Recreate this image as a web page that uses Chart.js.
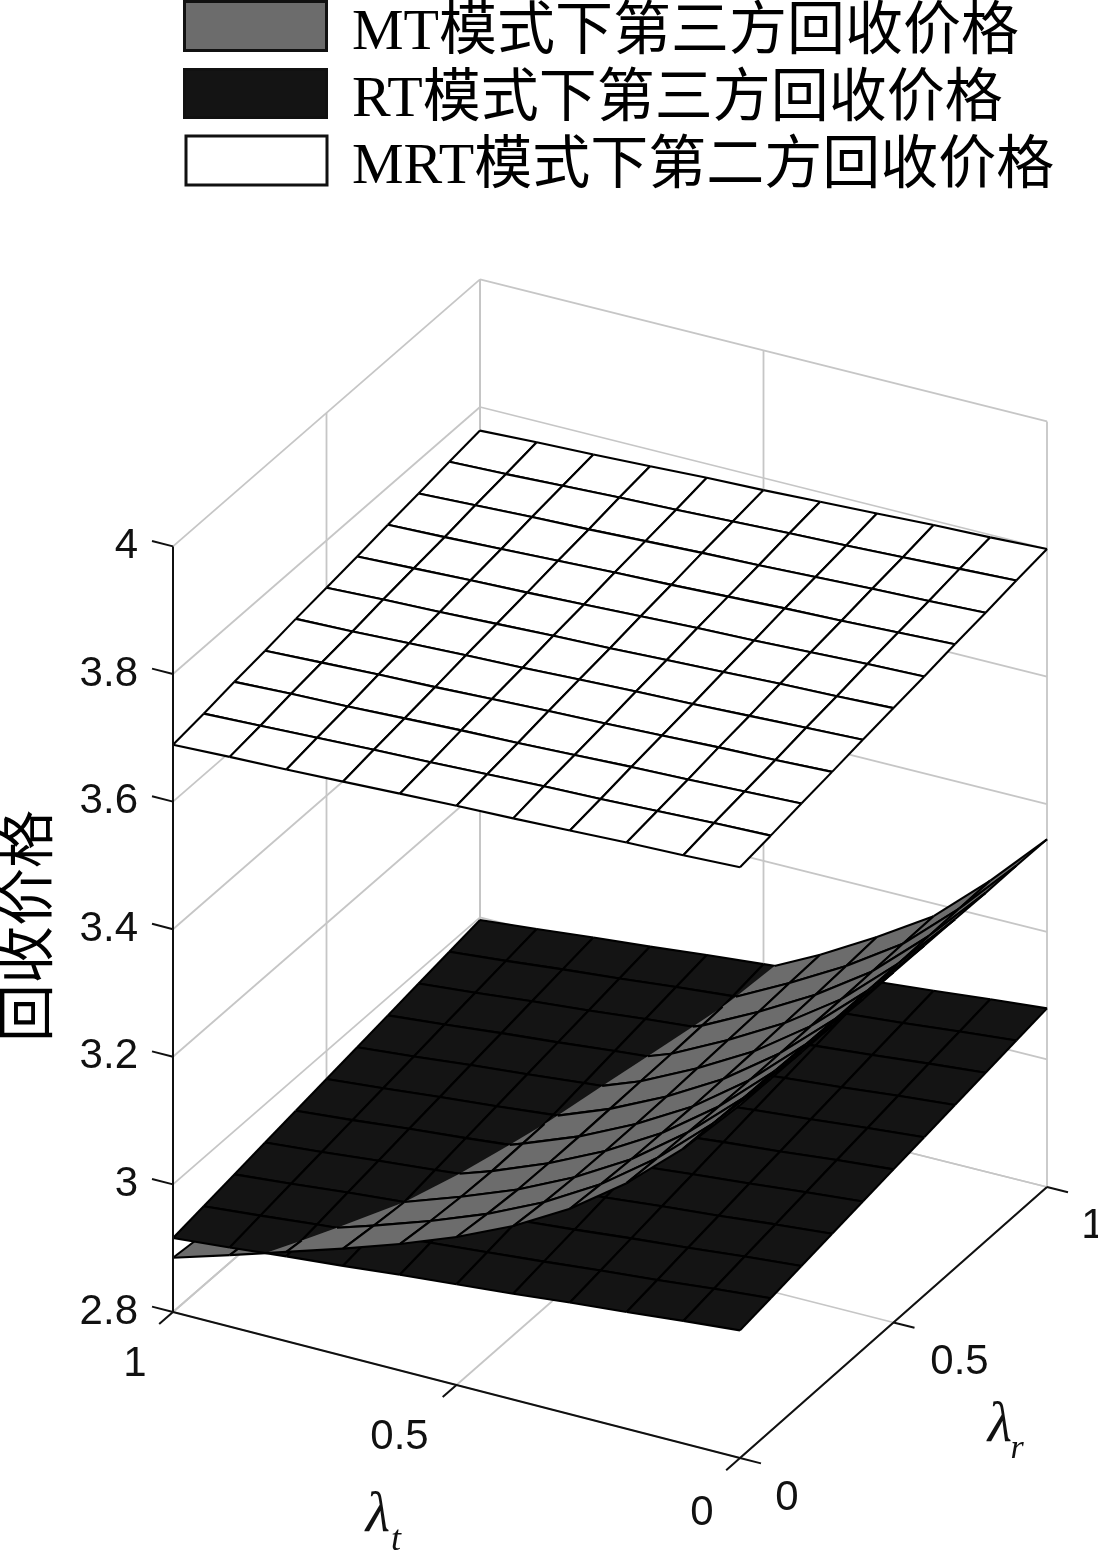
<!DOCTYPE html>
<html><head><meta charset="utf-8">
<style>html,body{margin:0;padding:0;background:#fff}canvas{display:block}</style>
<script src="https://cdn.jsdelivr.net/npm/chart.js@4/dist/chart.umd.js"></script>
</head><body>
<canvas id="c" width="1098" height="1552" style="width:1098px;height:1552px"></canvas>
<script>
// ---- data ----
const seriesNames = ['MT模式下第三方回收价格','RT模式下第三方回收价格','MRT模式下第二方回收价格'];
const lambdaT = [0,0.1,0.2,0.3,0.4,0.5,0.6,0.7,0.8,0.9,1];
const lambdaR = [0,0.1,0.2,0.3,0.4,0.5,0.6,0.7,0.8,0.9,1];
const zTicks = [2.8,3,3.2,3.4,3.6,3.8,4];
const zTickLabels = ['2.8','3','3.2','3.4','3.6','3.8','4'];
const tTicks = [0,0.5,1];
const rTicks = [0,0.5,1];
const tTickLabels = ['0','0.5','1'];
const rTickLabels = ['0','0.5','1'];
const yTitle = '回收价格';
// each row: one lambda_r; each column: one lambda_t
const mtPrice = [
[3.353,3.262,3.185,3.122,3.072,3.032,2.998,2.968,2.940,2.912,2.885],
[3.352,3.260,3.182,3.118,3.067,3.026,2.992,2.962,2.934,2.906,2.880],
[3.351,3.258,3.180,3.115,3.064,3.022,2.988,2.957,2.929,2.902,2.876],
[3.350,3.257,3.178,3.114,3.063,3.021,2.986,2.956,2.928,2.900,2.874],
[3.349,3.256,3.177,3.113,3.063,3.021,2.987,2.956,2.928,2.900,2.873],
[3.349,3.255,3.177,3.114,3.064,3.022,2.988,2.957,2.929,2.901,2.873],
[3.348,3.255,3.177,3.115,3.066,3.023,2.990,2.960,2.931,2.902,2.874],
[3.347,3.255,3.177,3.117,3.068,3.024,2.992,2.964,2.934,2.905,2.876],
[3.346,3.256,3.178,3.119,3.070,3.026,2.994,2.966,2.938,2.909,2.880],
[3.346,3.257,3.179,3.122,3.073,3.028,2.996,2.968,2.943,2.914,2.885],
[3.345,3.258,3.180,3.125,3.075,3.031,2.998,2.970,2.948,2.919,2.890]];
const rtPrice = [
[3.000,2.992,2.983,2.975,2.966,2.958,2.950,2.941,2.933,2.924,2.916],
[3.008,3.000,2.991,2.983,2.974,2.966,2.958,2.949,2.941,2.932,2.924],
[3.016,3.008,2.999,2.991,2.982,2.974,2.966,2.957,2.949,2.940,2.932],
[3.024,3.016,3.007,2.999,2.990,2.982,2.974,2.965,2.957,2.948,2.940],
[3.032,3.024,3.015,3.007,2.998,2.990,2.982,2.973,2.965,2.956,2.948],
[3.040,3.032,3.023,3.015,3.006,2.998,2.990,2.981,2.973,2.964,2.956],
[3.048,3.040,3.031,3.023,3.014,3.006,2.998,2.989,2.981,2.972,2.964],
[3.056,3.048,3.039,3.031,3.022,3.014,3.006,2.997,2.989,2.980,2.972],
[3.064,3.056,3.047,3.039,3.030,3.022,3.014,3.005,2.997,2.988,2.980],
[3.072,3.064,3.055,3.047,3.038,3.030,3.022,3.013,3.005,2.996,2.988],
[3.080,3.072,3.063,3.055,3.046,3.038,3.030,3.021,3.013,3.004,2.996]];
const mrtPrice = [
[3.726,3.722,3.719,3.715,3.711,3.708,3.704,3.700,3.696,3.693,3.689],
[3.733,3.730,3.726,3.722,3.719,3.715,3.711,3.708,3.704,3.700,3.696],
[3.741,3.737,3.733,3.730,3.726,3.722,3.719,3.715,3.711,3.708,3.704],
[3.748,3.744,3.741,3.737,3.733,3.730,3.726,3.722,3.719,3.715,3.711],
[3.756,3.752,3.748,3.744,3.741,3.737,3.733,3.730,3.726,3.722,3.719],
[3.763,3.759,3.756,3.752,3.748,3.744,3.741,3.737,3.733,3.730,3.726],
[3.770,3.767,3.763,3.759,3.756,3.752,3.748,3.744,3.741,3.737,3.733],
[3.778,3.774,3.770,3.767,3.763,3.759,3.756,3.752,3.748,3.744,3.741],
[3.785,3.781,3.778,3.774,3.770,3.767,3.763,3.759,3.756,3.752,3.748],
[3.793,3.789,3.785,3.781,3.778,3.774,3.770,3.767,3.763,3.759,3.756],
[3.800,3.796,3.793,3.789,3.785,3.781,3.778,3.774,3.770,3.767,3.763]];

// ---- view: projection of (lambda_t, lambda_r, price) onto the chart's scales ----
const VIEW = {ox:740, oy:1458, tx:-567, ty:-146, rx:307, ry:-271, tr:4, zs:-638, z0:2.8};
function P(t,r,z){return {x:VIEW.ox+VIEW.tx*t+VIEW.rx*r, y:VIEW.oy+VIEW.ty*t+VIEW.ry*r+VIEW.tr*t*r+VIEW.zs*(z-VIEW.z0)};}

const COL = {mt:'#6c6c6c', rt:'#141414', mrt:'#ffffff', mesh:'#000000', wall:'#c6c6c6', axis:'#101010'};
const MESH_W = 2.1;
const ds = [];
function line(pts,color,w){ds.push({data:pts.map(p=>P(p[0],p[1],p[2])),showLine:true,pointRadius:0,borderColor:color,borderWidth:w,fill:false,tension:0,clip:false});}
function poly(pts,color){const d=pts.map(p=>P(p[0],p[1],p[2]));d.push(d[0]);ds.push({data:d,showLine:true,pointRadius:0,borderWidth:0,borderColor:'rgba(0,0,0,0)',backgroundColor:color,fill:'shape',tension:0,clip:false});}

// walls and floor
const zLo=zTicks[0], zHi=zTicks[zTicks.length-1];
zTicks.forEach(z=>{line([[1,0,z],[1,1,z]],COL.wall,1.8);line([[1,1,z],[0,1,z]],COL.wall,1.8);});
rTicks.forEach(r=>{line([[1,r,zLo],[1,r,zHi]],COL.wall,1.8);line([[0,r,zLo],[1,r,zLo]],COL.wall,1.8);});
tTicks.forEach(t=>{line([[t,1,zLo],[t,1,zHi]],COL.wall,1.8);line([[t,0,zLo],[t,1,zLo]],COL.wall,1.8);});

// surfaces, far quads first
function quads(){const q=[];for(let k=0;k<10;k++)for(let j=0;j<10;j++)q.push([j,k]);q.sort((a,b)=>(b[0]+b[1])-(a[0]+a[1]));return q;}
function solid(Z,color){quads().forEach(([j,k])=>{
  const c=[[j,k],[j+1,k],[j+1,k+1],[j,k+1]].map(([a,b])=>[lambdaT[a],lambdaR[b],Z[b][a]]);
  poly(c,color);
  for(let i=0;i<4;i++)line([c[i],c[(i+1)%4]],COL.mesh,MESH_W);
});}
// the MT surface, cut where it passes through the RT surface
function cutMT(above,color){quads().forEach(([j,k])=>{
  const c=[[j,k],[j+1,k],[j+1,k+1],[j,k+1]].map(([a,b])=>({p:[lambdaT[a],lambdaR[b],mtPrice[b][a]],d:mtPrice[b][a]-rtPrice[b][a]}));
  const keep=v=>above?v.d>=0:v.d<0, ring=[], segs=[];
  for(let i=0;i<4;i++){const A=c[i],B=c[(i+1)%4],ka=keep(A),kb=keep(B);
    if(ka)ring.push(A.p);
    if(ka&&kb)segs.push([A.p,B.p]);
    else if(ka!==kb){const u=A.d/(A.d-B.d),m=A.p.map((v,n)=>v+(B.p[n]-v)*u);ring.push(m);segs.push(ka?[A.p,m]:[m,B.p]);}
  }
  if(ring.length>2)poly(ring,color);
  segs.forEach(s=>line(s,COL.mesh,MESH_W));
});}
solid(mrtPrice,COL.mrt);
cutMT(false,COL.mt);
solid(rtPrice,COL.rt);
cutMT(true,COL.mt);

// axes and tick marks
line([[1,0,zLo],[1,0,zHi]],COL.axis,2);
line([[0,0,zLo],[1,0,zLo]],COL.axis,2);
line([[0,0,zLo],[0,1,zLo]],COL.axis,2);
zTicks.forEach(z=>line([[1,0,z],[1.037,0,z]],COL.axis,2));
tTicks.forEach(t=>line([[t,0,zLo],[t,-0.045,zLo]],COL.axis,2));
rTicks.forEach(r=>line([[0,r,zLo],[-0.037,r,zLo]],COL.axis,2));

const SERIF='"Liberation Serif","Noto Sans CJK SC",serif', SANS='"Liberation Sans",Arial,sans-serif';
const legendPad=9;
const swatches=[[184.5,1.5,142,49],[184.5,69.5,142,48],[186,136,141,49]];
const labelsPlugin={id:'axisText',
  beforeDraw(chart){const l=chart.legend; l.left=181-legendPad; l.top=5-legendPad;},
  beforeDatasetsDraw(chart){
    const ctx=chart.ctx;ctx.save();
    [COL.mt,COL.rt,COL.mrt].forEach((c,i)=>{const s=swatches[i];ctx.fillStyle=c;ctx.strokeStyle='#111';ctx.lineWidth=3;ctx.fillRect(s[0],s[1],s[2],s[3]);ctx.strokeRect(s[0],s[1],s[2],s[3]);});
    ctx.restore();
  },
  afterDraw(chart){
    const ctx=chart.ctx,sx=chart.scales.x,sy=chart.scales.y;
    const at=(p,dx,dy)=>[sx.getPixelForValue(p.x)+dx,sy.getPixelForValue(p.y)+dy];
    const put=(s,pos,font,align)=>{ctx.font=font;ctx.textAlign=align||'center';ctx.textBaseline='middle';ctx.fillStyle='#111';ctx.fillText(s,pos[0],pos[1]);};
    ctx.save();
    const tf='42px '+SANS;
    zTicks.forEach((z,i)=>put(zTickLabels[i],at(P(1,0,z),-35,0),tf,'right'));
    tTicks.forEach((t,i)=>put(tTickLabels[i],at(P(t,0,zLo),[-38,-57,-38][i],[55,52,52][i]),tf));
    rTicks.forEach((r,i)=>put(rTickLabels[i],at(P(0,r,zLo),[47,66,46][i],[40,40,39][i]),tf));
    // axis names
    put('λ',[378,1516],'italic 56px '+SERIF);
    put('t',[396,1541],'italic 36px '+SERIF);
    put('λ',[1000,1426],'italic 56px '+SERIF);
    put('r',[1017,1449],'italic 34px '+SERIF);
    ctx.save();ctx.translate(32,926);ctx.rotate(-Math.PI/2);
    ctx.font='58px '+SERIF;ctx.textAlign='center';ctx.textBaseline='middle';ctx.fillStyle='#000';ctx.fillText(yTitle,0,0);ctx.restore();
    ctx.restore();
  }};

new Chart(document.getElementById('c'),{
  type:'scatter',
  data:{datasets:ds.reverse()},
  plugins:[labelsPlugin],
  options:{
    responsive:false,animation:false,events:[],
    layout:{padding:0},
    scales:{x:{type:'linear',min:0,max:1098,display:false},y:{type:'linear',min:0,max:1552,reverse:true,display:false}},
    plugins:{
      tooltip:{enabled:false},
      legend:{display:true,position:'chartArea',align:'start',
        labels:{boxWidth:142,boxHeight:50,padding:legendPad,color:'#000',font:{family:SERIF,size:58},
          generateLabels:()=>[0,1,2].map(i=>({text:seriesNames[i],fillStyle:'rgba(0,0,0,0)',strokeStyle:'rgba(0,0,0,0)',lineWidth:0,hidden:false,datasetIndex:i}))}
      }
    }
  }
});
</script>
</body></html>
